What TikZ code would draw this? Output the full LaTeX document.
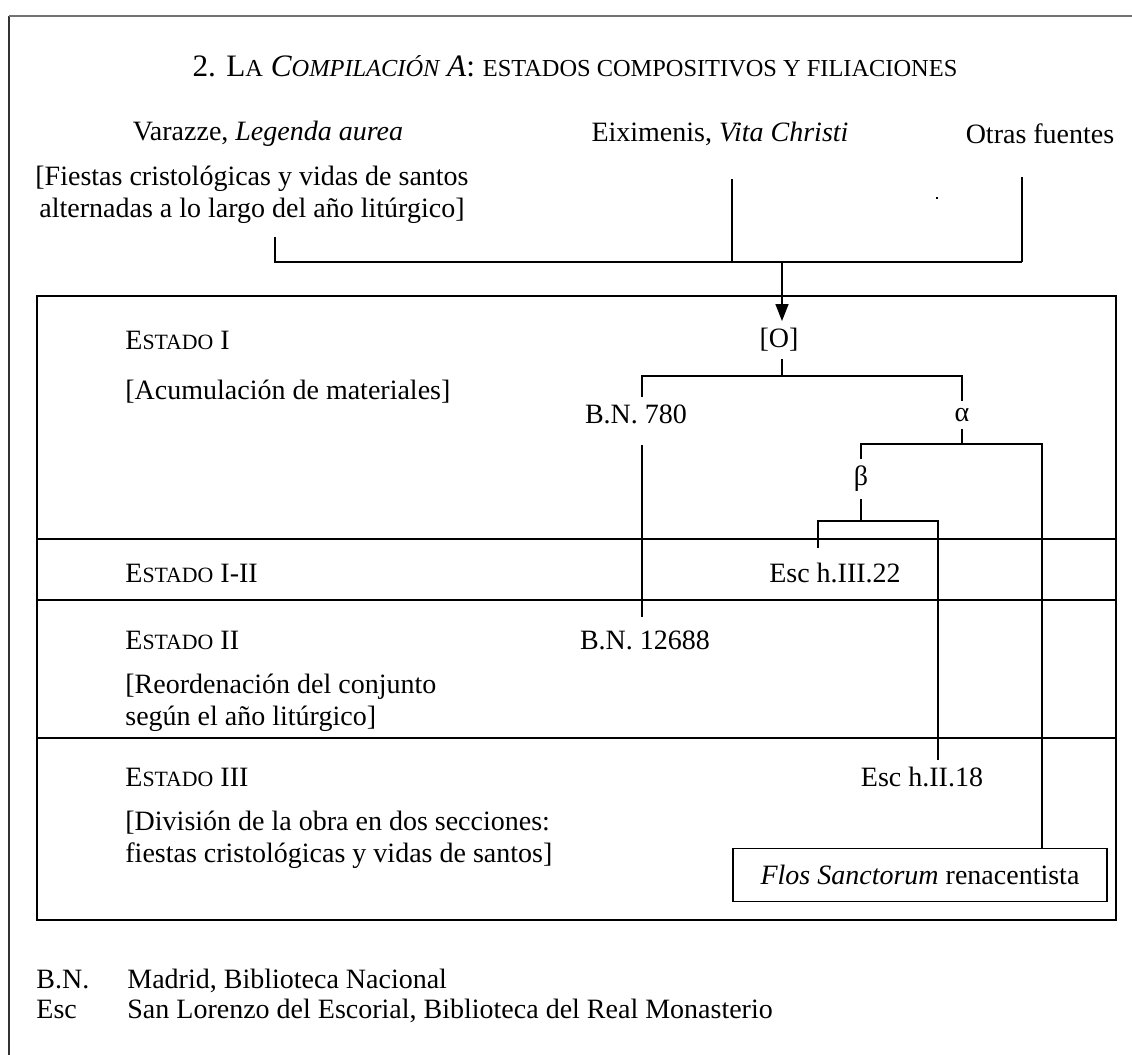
\documentclass[tikz,border=0pt]{standalone}
\usepackage{fontspec}
\setmainfont{Liberation Serif}
\usepackage{tikz}
\usetikzlibrary{arrows.meta,positioning,calc}

% small capitals faked with reduced capitals
\newcommand{\smc}[1]{{\fontsize{10.9pt}{12pt}\selectfont #1}}
\newcommand{\bigsmc}[1]{{\fontsize{12.2pt}{13pt}\selectfont #1}}

\begin{document}
\begin{tikzpicture}[
  x=0.5pt, y=-0.5pt,
  every node/.style={font=\fontsize{14pt}{16pt}\selectfont, inner sep=3.5pt},
  lab/.style    ={anchor=west, align=left},
  key/.style    ={anchor=base west},
  link/.style   ={line width=0.8pt},
  arr/.style    ={-{Triangle[length=8.5pt,width=6.5pt]}, line width=0.8pt},
  flosbox/.style={draw, line width=0.8pt, minimum width=187pt, minimum height=26.5pt},
  dotmark/.style={rectangle, fill, inner sep=0pt, minimum width=1.4pt, minimum height=1pt},
]
  \useasboundingbox (0,0) rectangle (1132,1055);

  % page frame
  \draw[black!80, line width=0.9pt] (9,1055) -- (9,16);
  \draw[black!55, line width=1pt] (9,16) -- (1132,16);

  \node[font=\fontsize{15.6pt}{18pt}\selectfont] (title) at (575,66)
    {2. L\bigsmc{A} \textit{C\bigsmc{OMPILACIÓN} A}: \bigsmc{ESTADOS COMPOSITIVOS Y FILIACIONES}};

  % sources
  \node (varazze)   at (268,134)  {Varazze, \textit{Legenda aurea}};
  \node (eiximenis) at (720,134)  {Eiximenis, \textit{Vita Christi}};
  \node (otras)     at (1040,134) {Otras fuentes};
  \node[align=center] (fiestas) at (252,195) {[Fiestas cristológicas y vidas de santos\\alternadas a lo largo del año litúrgico]};
  \node[dotmark] (stray) at (937,198) {};

  \coordinate (jv)   at (275,262);
  \coordinate (je)   at (732,262);
  \coordinate (jo)   at (1022,262);
  \coordinate (join) at (782,262);
  \draw[link, shorten <=3pt] (fiestas.south -| jv) -- (jv) -- (jo);
  \draw[link, shorten <=13pt] (eiximenis.south -| je) -- (je);
  \draw[link, shorten <=13pt] (otras.south -| jo) -- (jo);

  % states
  \draw[link] (37,296) rectangle (1116,920);
  \draw[link] (37,539) -- (1116,539);
  \draw[link] (37,600) -- (1116,600);
  \draw[link] (37,738) -- (1116,738);

  \node[lab] (e1)  at (118,340) {E\smc{STADO} I};
  \node[lab] (e1n) at (118,392) {[Acumulación de materiales]};
  \node[lab] (e12) at (118,573) {E\smc{STADO} I-II};
  \node[lab] (e2)  at (118,640) {E\smc{STADO} II};
  \node[lab] (e2n) at (118,703) {[Reordenación del conjunto\\según el año litúrgico]};
  \node[lab] (e3)  at (118,777) {E\smc{STADO} III};
  \node[lab] (e3n) at (118,840) {[División de la obra en dos secciones:\\fiestas cristológicas y vidas de santos]};

  % stemma
  \node (o)       at (779,340) {[O]};
  \node (bn780)   at (636,414) {B.N. 780};
  \node (alpha)   at (962,415) {α};
  \node (beta)    at (861,479) {β};
  \node (esc322)  at (835,573) {Esc h.III.22};
  \node (bn12688) at (645,640) {B.N. 12688};
  \node (esc218)  at (922,777) {Esc h.II.18};
  \node[flosbox] (flos) at (920,875) {\textit{Flos Sanctorum} renacentista};

  \coordinate (ofork) at (782,376);
  \coordinate (bnx)   at (642,376);
  \coordinate (afork) at (1042,444);
  \coordinate (bleft) at (818,521);
  \coordinate (bfork) at (938,521);

  \draw[arr]  (join) -- (o.north -| join);
  \draw[link] (o.south -| ofork) -- (ofork);
  \draw[link] (bn780.north -| bnx) -- (bnx) -- (ofork) -| (alpha);
  \draw[link] (alpha) -- (alpha |- afork);
  \draw[link] (beta) |- (afork) -- (afork |- flos.north);
  \draw[link] (beta) -- (beta |- bfork);
  \draw[link, shorten <=4pt] (esc322.north -| bleft) -- (bleft) -- (bfork) -- (bfork |- esc218.north);
  \draw[link, shorten <=7pt, shorten >=3pt] (bn780.south -| bnx) -- (bn12688.north -| bnx);

  % key
  \node[key] (bnkey)  at (29,988)  {B.N.};
  \node[key] (bnval)  at (120,988) {Madrid, Biblioteca Nacional};
  \node[key] (esckey) at (29,1018) {Esc};
  \node[key] (escval) at (120,1018) {San Lorenzo del Escorial, Biblioteca del Real Monasterio};
\end{tikzpicture}
\end{document}
